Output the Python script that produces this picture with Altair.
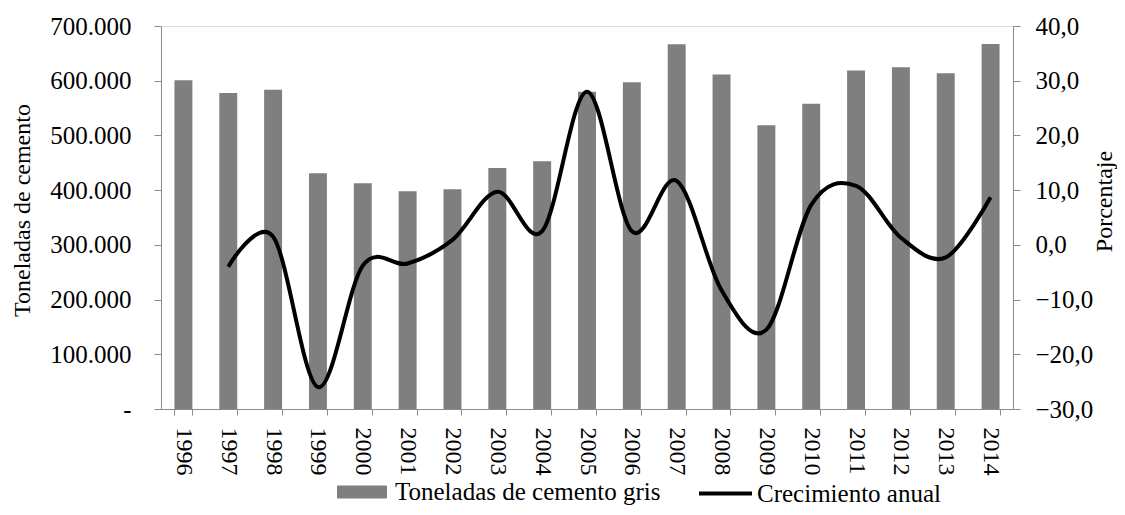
import altair as alt
import pandas as pd

years = [str(y) for y in range(1996, 2015)]
toneladas = [601000, 577500, 583500, 431000, 412500, 398000, 401500, 440500, 453000,
             580000, 597000, 666500, 611500, 518500, 558000, 618500, 624500, 613500, 667000]
crecimiento = [None, -4.0, 1.5, -26.0, -3.8, -3.4, 0.9, 9.7, 2.5,
               28.0, 2.5, 11.7, -8.3, -15.5, 7.3, 10.8, 1.3, -2.3, 8.7]

df = pd.DataFrame({"year": years, "ton": toneladas, "crec": crecimiento})
df["s1"] = "Toneladas de cemento gris"
df["s2"] = "Crecimiento anual"

FONT = "Liberation Serif"
AX = "#8c8c8c"

x = alt.X("year:N", title=None, sort=years,
          scale=alt.Scale(paddingInner=0.6, paddingOuter=0.3),
          axis=alt.Axis(labelAngle=90, labelAlign="left", labelBaseline="middle",
                        tickBand="extent", labelPadding=12, tickSize=6,
                        domainColor=AX, tickColor=AX, labelFontSize=24,
                        labelFont=FONT, labelColor="black"))

bars = alt.Chart(df).mark_bar(color="#7f7f7f").encode(
    x=x,
    y=alt.Y("ton:Q", title="Toneladas de cemento",
            scale=alt.Scale(domain=[0, 700000], nice=False),
            axis=alt.Axis(values=[0, 100000, 200000, 300000, 400000, 500000, 600000, 700000],
                          labelExpr="datum.value == 0 ? '-\u00a0\u00a0\u00a0\u00a0' : format(datum.value/1000, '.0f') + '.000'",
                          grid=False, tickSize=7, domainColor=AX, tickColor=AX,
                          labelFontSize=25, labelFont=FONT, labelColor="black",
                          labelPadding=23, titleFontSize=24, titleFont=FONT,
                          titleFontWeight="normal", titlePadding=15, titleColor="black",
                          titleY=184)),
    fill=alt.Fill("s1:N", scale=alt.Scale(range=["#7f7f7f"]),
                  legend=alt.Legend(title=None, orient="none", legendX=176, legendY=441,
                                    symbolType="M-1,-0.26H1V0.26H-1Z", symbolSize=2500,
                                    symbolStrokeWidth=0, labelFontSize=25, labelFont=FONT,
                                    labelColor="black", labelOffset=8, padding=0,
                                    labelLimit=600)),
)

line = alt.Chart(df).transform_filter("datum.crec != null").mark_line(
    color="black", strokeWidth=4, interpolate="cardinal"
).encode(
    x=x,
    y=alt.Y("crec:Q", title="Porcentaje",
            scale=alt.Scale(domain=[-30, 40], nice=False),
            axis=alt.Axis(orient="right", values=[-30, -20, -10, 0, 10, 20, 30, 40],
                          labelExpr="replace(format(datum.value, '.1f'), '.', ',')",
                          grid=False, tickSize=7, domainColor=AX, tickColor=AX,
                          labelFontSize=25, labelFont=FONT, labelColor="black",
                          labelPadding=15, titleFontSize=24, titleFont=FONT,
                          titleFontWeight="normal", titlePadding=24, titleColor="black",
                          titleAngle=270, titleY=175)),
    stroke=alt.Stroke("s2:N", scale=alt.Scale(range=["black"]),
                      legend=alt.Legend(title=None, orient="none", legendX=536, legendY=439,
                                        symbolType="stroke", symbolSize=2809,
                                        symbolStrokeWidth=4, labelFontSize=25, labelFont=FONT,
                                        labelColor="black", labelOffset=3, padding=0,
                                        labelLimit=600)),
)

chart = alt.layer(bars, line).resolve_scale(y="independent", fill="independent", stroke="independent").properties(
    width=852, height=383,
    autosize=alt.AutoSizeParams(type="none"),
    padding={"left": 153, "top": 18, "right": 104, "bottom": 98},
).configure_view(stroke=None).configure(background="white")

chart.save("out.html", embed_options={"renderer": "svg", "actions": False})
